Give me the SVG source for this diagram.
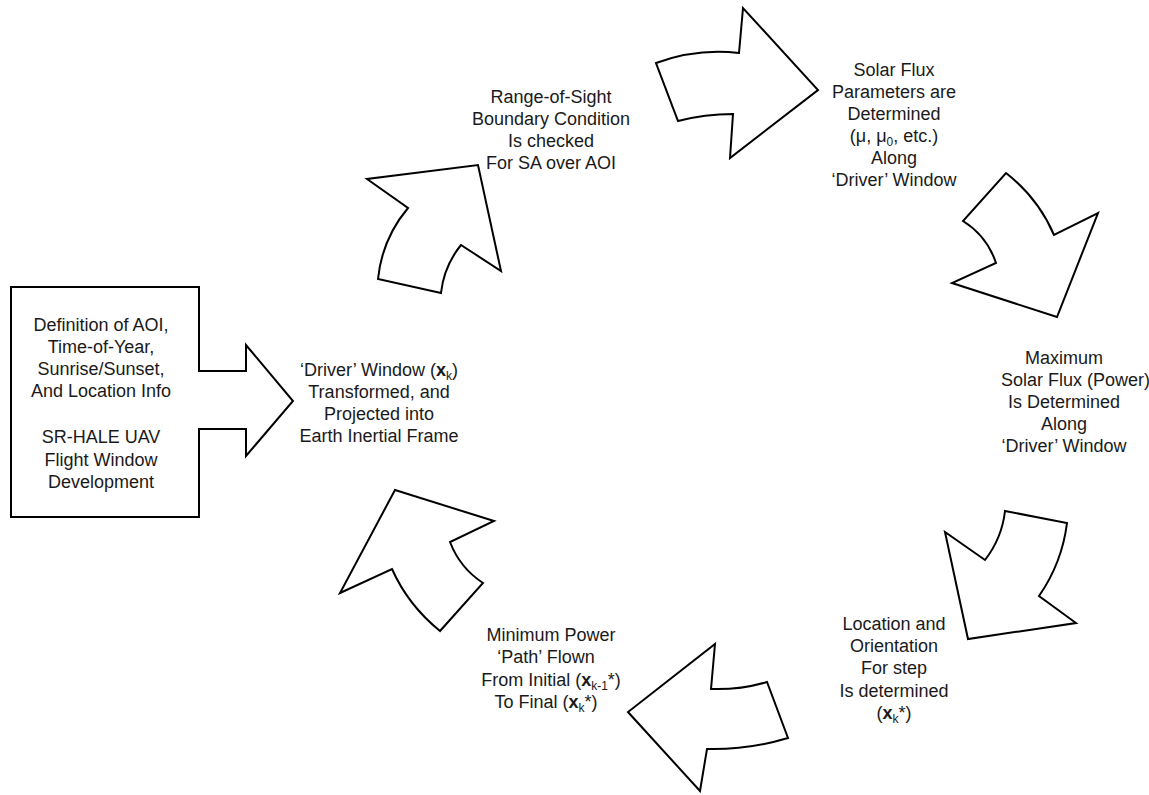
<svg xmlns="http://www.w3.org/2000/svg" width="1149" height="795" viewBox="0 0 1149 795">
<style>
.shape{fill:#fff;stroke:#000;stroke-width:2;stroke-linejoin:miter}
.t{font-family:"Liberation Sans",Arial,sans-serif;font-size:18px;fill:#1a1a1a;text-anchor:middle}
.b{font-weight:bold}
.s{font-size:12px}
</style>
<rect width="1149" height="795" fill="#fff"/>
<g id="connectors">
<path id="arrow-a" class="shape" d="M367,179 L408,208 Q382,239 378,279 L441,293 Q444,266 461,245 L501,271 L478,165 Z"/>
<path id="arrow-b" class="shape" d="M656,63 Q697,48 739,53 L743,8 L818,90 L730,158 L733,114 Q705,114 678,121 Z"/>
<path id="arrow-c" class="shape" d="M1006,173 Q1038,198 1054,235 L1098,213 L1057,317 L952,283 L996,263 Q987,236 963,221 Z"/>
<path id="arrow-d" class="shape" d="M1005,511 L1067,523 Q1062,563 1039,596 L1076,623 L968,639 L945,532 L985,560 Q1002,538 1005,511 Z"/>
<path id="arrow-e" class="shape" d="M715,644 L711,689 Q740,690 767,682 L788,738 Q748,750 707,749 L700,791 L628,712 Z"/>
<path id="arrow-f" class="shape" d="M395,490 L494,521 L450,542 Q460,568 483,583 L440,631 Q408,605 392,569 L340,593 Z"/>
</g>
<g id="node-input">
<path class="shape" d="M11,287 L199,287 L199,371 L246,371 L246,345 L293,401 L246,456 L246,429 L199,429 L199,517 L11,517 Z"/>
<text class="t" x="101" y="331">Definition of AOI,</text>
<text class="t" x="101" y="353">Time-of-Year,</text>
<text class="t" x="101" y="375">Sunrise/Sunset,</text>
<text class="t" x="101" y="397">And Location Info</text>
<text class="t" x="101" y="443">SR-HALE UAV</text>
<text class="t" x="101" y="466">Flight Window</text>
<text class="t" x="101" y="488">Development</text>
</g>
<g id="node-driver">
<text class="t" x="379" y="376">‘Driver’ Window (<tspan class="b">x</tspan><tspan class="s" dy="4">k</tspan><tspan dy="-4">)</tspan></text>
<text class="t" x="379" y="398">Transformed, and</text>
<text class="t" x="379" y="420">Projected into</text>
<text class="t" x="379" y="442">Earth Inertial Frame</text>
</g>
<g id="node-range">
<text class="t" x="551" y="103">Range-of-Sight</text>
<text class="t" x="551" y="125">Boundary Condition</text>
<text class="t" x="551" y="147">Is checked</text>
<text class="t" x="551" y="169">For SA over AOI</text>
</g>
<g id="node-solar">
<text class="t" x="894" y="76">Solar Flux</text>
<text class="t" x="894" y="98">Parameters are</text>
<text class="t" x="894" y="120">Determined</text>
<text class="t" x="894" y="142">(μ, μ<tspan class="s" dy="4">0</tspan><tspan dy="-4">, etc.)</tspan></text>
<text class="t" x="894" y="164">Along</text>
<text class="t" x="894" y="186">‘Driver’ Window</text>
</g>
<g id="node-maximum">
<text class="t" x="1064" y="364">Maximum</text>
<text class="t" x="1001" y="386" style="text-anchor:start">Solar Flux (Power)</text>
<text class="t" x="1064" y="408">Is Determined</text>
<text class="t" x="1064" y="430">Along</text>
<text class="t" x="1064" y="452">‘Driver’ Window</text>
</g>
<g id="node-location">
<text class="t" x="894" y="630">Location and</text>
<text class="t" x="894" y="652">Orientation</text>
<text class="t" x="894" y="674">For step</text>
<text class="t" x="894" y="697">Is determined</text>
<text class="t" x="894" y="719">(<tspan class="b">x</tspan><tspan class="s" dy="4">k</tspan><tspan dy="-4">*)</tspan></text>
</g>
<g id="node-minimum">
<text class="t" x="551" y="641">Minimum Power</text>
<text class="t" x="546" y="663">‘Path’ Flown</text>
<text class="t" x="551" y="686">From Initial (<tspan class="b">x</tspan><tspan class="s" dy="4">k-1</tspan><tspan dy="-4">*)</tspan></text>
<text class="t" x="546" y="708">To Final (<tspan class="b">x</tspan><tspan class="s" dy="4">k</tspan><tspan dy="-4">*)</tspan></text>
</g>
</svg>
